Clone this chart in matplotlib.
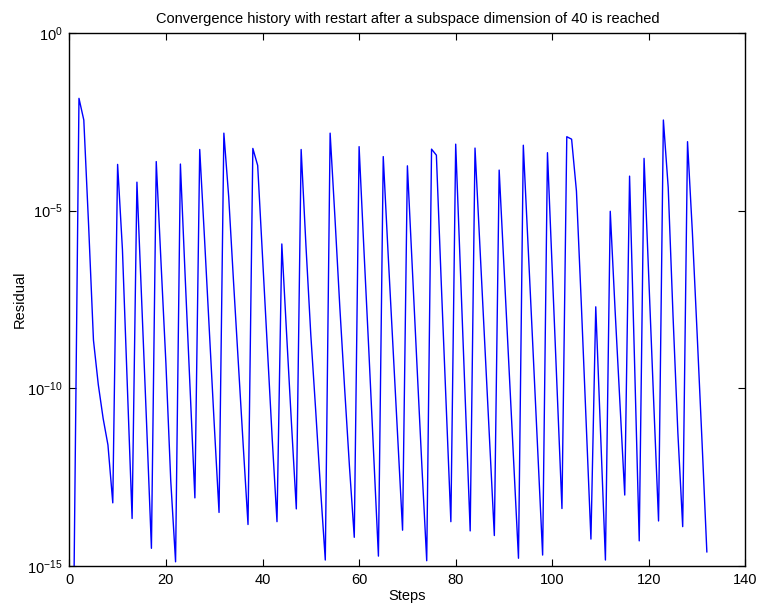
import numpy as np
import matplotlib
matplotlib.use("Agg")
import matplotlib.pyplot as plt
from matplotlib.ticker import FixedLocator, NullLocator

plt.rcParams['font.family'] = ['Liberation Sans', 'DejaVu Sans']
plt.rcParams['mathtext.fontset'] = 'custom'
plt.rcParams['mathtext.rm'] = 'Liberation Sans'
plt.rcParams['mathtext.it'] = 'Liberation Sans'

# Residual per step, stored as log10 values (one per step, steps 1..132)
log_residual = [
    -15.0, -1.84, -2.45, -5.43, -8.65, -9.9, -10.85, -11.6, -13.23,       # 1-9
    -3.70, -6.1, -9.9, -13.67,                                            # 10-13
    -4.20, -7.6, -11.0, -14.51,                                           # 14-17
    -3.62, -6.5, -9.3, -12.6, -14.89,                                     # 18-22
    -3.69, -6.9, -10.0, -13.09,                                           # 23-26
    -3.28, -5.8, -8.4, -11.0, -13.50,                                     # 27-31
    -2.82, -4.61, -7.0, -9.3, -11.6, -13.84,                              # 32-37
    -3.25, -3.73, -6.3, -8.9, -11.4, -13.76,                              # 38-43
    -5.94, -8.5, -11.0, -13.40,                                           # 44-47
    -3.28, -6.0, -8.5, -10.6, -12.8, -14.84,                              # 48-53
    -2.82, -5.2, -7.7, -10.0, -12.2, -14.20,                              # 54-59
    -3.20, -6.1, -8.9, -11.8, -14.73,                                     # 60-64
    -3.48, -6.2, -8.8, -11.4, -14.0,                                      # 65-69
    -3.74, -6.6, -9.4, -12.2, -14.86,                                     # 70-74
    -3.27, -3.44, -7.0, -10.4, -13.76,                                    # 75-79
    -3.13, -6.8, -10.4, -14.02,                                           # 80-83
    -3.24, -6.0, -8.7, -11.4, -14.15,                                     # 84-88
    -3.86, -6.6, -9.3, -12.1, -14.79,                                     # 89-93
    -3.16, -6.0, -8.9, -11.8, -14.70,                                     # 94-98
    -3.37, -6.7, -10.0, -13.39,                                           # 99-102
    -2.92, -2.99, -4.45, -7.6, -10.95, -14.25,                            # 103-108
    -7.71, -11.27, -14.84,                                                # 109-111
    -5.02, -7.8, -10.4, -13.01,                                           # 112-115
    -4.03, -9.1, -14.30,                                                  # 116-118
    -3.53, -7.0, -10.4, -13.74,                                           # 119-122
    -2.45, -4.35, -7.97, -11.26, -13.90,                                  # 123-127
    -3.06, -5.6, -8.5, -11.5, -14.61,                                     # 128-132
]
steps = np.arange(1, len(log_residual) + 1)
residual = 10.0 ** np.array(log_residual)

x_ticks = [0, 20, 40, 60, 80, 100, 120, 140]
y_ticks = [1e-15, 1e-10, 1e-5, 1e0]
y_tick_labels = [r'$\mathregular{10^{-15}}$', r'$\mathregular{10^{-10}}$',
                 r'$\mathregular{10^{-5}}$', r'$\mathregular{10^{0}}$']

fig = plt.figure(figsize=(7.6, 6.1), dpi=100)
ax = fig.add_axes([0.0912, 0.0726, 0.8897, 0.8733])

ax.semilogy(steps, residual, color=(0, 0, 1), lw=1.0)

ax.set_xlim(0, 140)
ax.set_ylim(1e-15, 1e0)
ax.xaxis.set_major_locator(FixedLocator(x_ticks))
ax.set_xticklabels([str(t) for t in x_ticks])
ax.yaxis.set_major_locator(FixedLocator(y_ticks))
ax.yaxis.set_minor_locator(NullLocator())
ax.set_yticklabels(y_tick_labels)

ax.tick_params(which='both', direction='in', top=True, right=True,
               length=5, width=0.8, labelsize=10.5, pad=5)
for spine in ax.spines.values():
    spine.set_linewidth(1.0)

ax.set_title('Convergence history with restart after a subspace dimension of 40 is reached',
             fontsize=10.5, pad=7)
ax.set_xlabel('Steps', fontsize=10.5, labelpad=2)
ax.set_ylabel('Residual', fontsize=10.5, labelpad=0)

fig.savefig('out.png', dpi=100)
